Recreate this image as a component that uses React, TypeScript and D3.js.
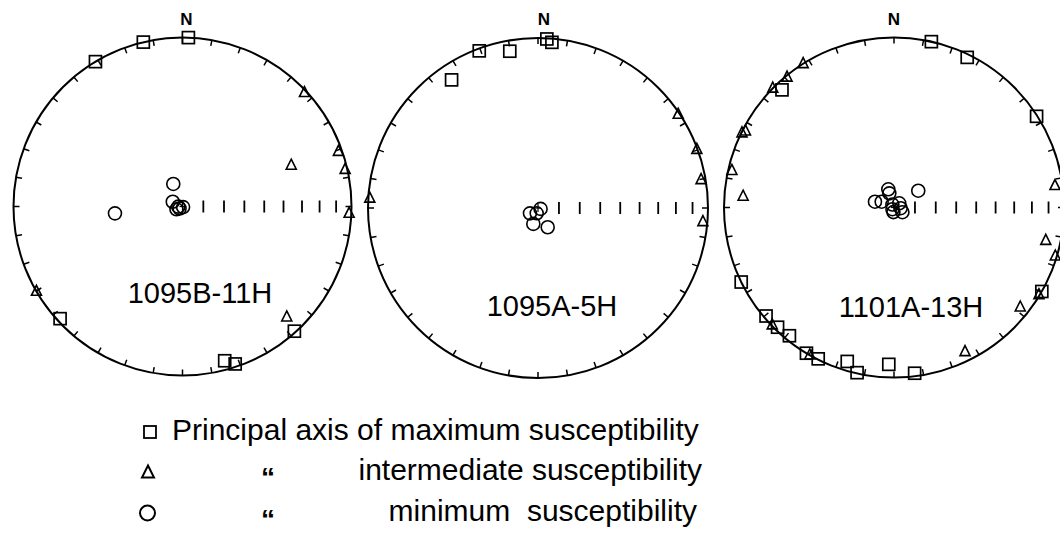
import React from 'react';
import * as d3 from 'd3';

// [declination, inclination]
const maxB11H = [[2, 0], [346.6, 0], [329, 0], [227.5, 2], [138.1, 1], [164.7, 6], [161.5, 2]];
const intB11H = [[47, 1.5], [70.6, 2.5], [69.3, 31.8], [77.2, 1.5], [92.4, 1.5], [239.8, 0], [136.7, 11]];
const minB11H = [[337.8, 78.3], [296.1, 84.8], [264.2, 57], [268, 88], [236.3, 88.3], [135, 89.6], [245, 86.8]];

const maxA5H = [[3, 0.5], [4.8, 2.5], [339.5, 1.5], [349.8, 7], [326, 10]];
const intA5H = [[56.3, 1], [69.8, 0.5], [80.2, 3], [94.8, 3], [273.3, 1]];
const minA5H = [[236.5, 85.4], [109, 88.7], [194, 87.4], [196.4, 82.1], [153.3, 79.7]];

const maxA13H = [[12.7, 0], [26, 2], [57.4, 0.5], [316.4, 5], [244, 0], [119.6, 0], [229.7, 1.5], [224.2, 2],
  [219.2, 3], [211, 0], [206.6, 0.5], [196.9, 6], [192.6, 0.5], [181.9, 8.5], [172.9, 2]];
const intA13H = [[327.7, 0], [320.6, 1], [314.5, 0], [297.2, 2], [296.1, 0.5], [282.8, 2.5], [274.2, 12], [82.3, 5],
  [102.3, 9.5], [106.8, 1], [121.1, 0.5], [128.3, 6], [153.8, 6], [226, 0.5], [209.7, 0]];
const minA13H = [[287, 80.5], [295.2, 83.5], [342.6, 80.9], [341.7, 82.9], [55.3, 75.9], [331, 88.4], [51.3, 86.8],
  [96, 86.8], [222.6, 88.9], [119.2, 85.4], [186.9, 87.8]];

const siteLabels = ['1095B-11H', '1095A-5H', '1101A-13H'];
const legendLabels = ['Principal axis of maximum susceptibility', 'intermediate susceptibility', 'minimum  susceptibility'];
const plungeTicks = [80, 70, 60, 50, 40, 30, 20, 10];
const azimuthTicks = d3.range(0, 360, 10);

const FONT = '"Liberation Sans", Arial, sans-serif';

const nets = [
  { cx: 182.5, cy: 206.5, R: 169, label: siteLabels[0], lx: 200, ly: 303, nx: 4, kmax: maxB11H, kint: intB11H, kmin: minB11H },
  { cx: 538, cy: 208, R: 170, label: siteLabels[1], lx: 552, ly: 316, nx: 6, kmax: maxA5H, kint: intA5H, kmin: minA5H },
  { cx: 894, cy: 207.5, R: 170, label: siteLabels[2], lx: 911, ly: 317, nx: 0, kmax: maxA13H, kint: intA13H, kmin: minA13H },
];

const triPath = (s) => `M0,${-s * 0.62}L${s * 0.5},${s * 0.38}L${-s * 0.5},${s * 0.38}Z`;

function Net({ cx, cy, R, label, lx, ly, nx, kmax, kint, kmin }) {
  // lower hemisphere equal-area (Schmidt) projection
  const rScale = d3.scaleLinear().domain([0, 1]).range([0, R]);
  const proj = (dec, inc) => {
    const r = rScale(Math.SQRT2 * Math.sin(((90 - inc) / 2) * Math.PI / 180));
    const a = dec * Math.PI / 180;
    return [cx + r * Math.sin(a), cy - r * Math.cos(a)];
  };
  return (
    <g>
      <circle cx={cx} cy={cy} r={R} fill="none" stroke="#000" strokeWidth={2} />
      {azimuthTicks.map((az) => {
        const [x1, y1] = proj(az, 0);
        const a = az * Math.PI / 180;
        return <line key={az} x1={x1} y1={y1} x2={x1 - 6 * Math.sin(a)} y2={y1 + 6 * Math.cos(a)} stroke="#000" strokeWidth={1.5} />;
      })}
      {plungeTicks.map((p) => {
        const [x] = proj(90, p);
        return <line key={p} x1={x} x2={x} y1={cy - 6} y2={cy + 6} stroke="#000" strokeWidth={1.8} />;
      })}
      <line x1={cx - 3} x2={cx + 3} y1={cy} y2={cy} stroke="#000" strokeWidth={1.2} />
      <line x1={cx} x2={cx} y1={cy - 4} y2={cy + 4} stroke="#000" strokeWidth={1.2} />
      <text x={cx + nx} y={25} textAnchor="middle" fontFamily={FONT} fontWeight="bold" fontSize={17}>N</text>
      <text x={lx} y={ly} textAnchor="middle" fontFamily={FONT} fontSize={29}>{label}</text>
      {kmin.map(([d, i], k) => {
        const [x, y] = proj(d, i);
        return <circle key={'c' + k} cx={x} cy={y} r={6.5} fill="none" stroke="#000" strokeWidth={1.6} />;
      })}
      {kint.map(([d, i], k) => {
        const [x, y] = proj(d, i);
        return <path key={'t' + k} d={triPath(10)} transform={`translate(${x},${y})`} fill="none" stroke="#000" strokeWidth={1.6} />;
      })}
      {kmax.map(([d, i], k) => {
        const [x, y] = proj(d, i);
        return <rect key={'s' + k} x={x - 6} y={y - 6} width={12} height={12} fill="none" stroke="#000" strokeWidth={1.7} />;
      })}
    </g>
  );
}

export default function App() {
  return (
    <svg width={1060} height={538} style={{ position: 'absolute', left: 0, top: 0, background: '#fff' }}>
      {nets.map((n) => <Net key={n.label} {...n} />)}
      <g fontFamily={FONT} fontSize={30}>
        <rect x={144} y={426} width={12} height={12} fill="none" stroke="#000" strokeWidth={1.8} />
        <text x={172} y={440}>{legendLabels[0]}</text>
        <path d={triPath(12)} transform="translate(148,473)" fill="none" stroke="#000" strokeWidth={2} />
        <text x={268} y={487} textAnchor="middle" fontSize={28} fontWeight="bold">“</text>
        <text x={702} y={480} textAnchor="end">{legendLabels[1]}</text>
        <circle cx={147.5} cy={513} r={7.5} fill="none" stroke="#000" strokeWidth={2} />
        <text x={268} y={529} textAnchor="middle" fontSize={28} fontWeight="bold">“</text>
        <text x={697} y={521} textAnchor="end" style={{ whiteSpace: 'pre' }}>{legendLabels[2]}</text>
      </g>
    </svg>
  );
}
